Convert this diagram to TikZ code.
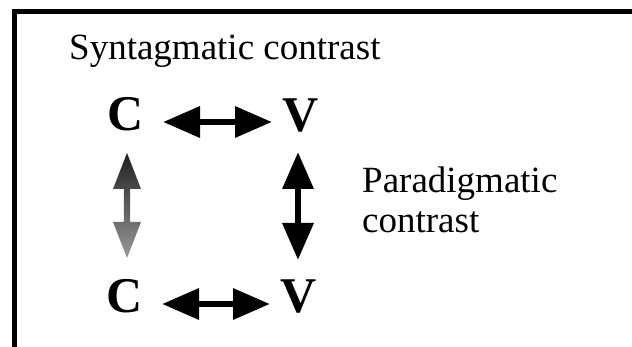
\documentclass[tikz,border=0pt]{standalone}
\usepackage{fontspec}
\setmainfont{Liberation Serif}
\usetikzlibrary{arrows.meta}
\tikzset{
  lbl/.style={inner sep=0pt, anchor=base west, font=\fontsize{37}{40}\selectfont},
  letter/.style={inner sep=0pt, anchor=base, font=\fontsize{50}{55}\selectfont\bfseries},
  dbl/.style={line width=6.5pt, {Triangle[length=37pt,width=30pt]}-{Triangle[length=37pt,width=30pt]}},
}
\begin{document}
\begin{tikzpicture}[x=1pt,y=-1pt]
\useasboundingbox (0,0) rectangle (632,347);
\fill[white] (0,0) rectangle (632,347);
% frame
\draw[line width=5pt] (14.5,350) -- (14.5,11.5) -- (635,11.5);
% texts
\node[lbl] (title) at (69,60) {Syntagmatic contrast};
\node[lbl] (para1) at (362,193) {Paradigmatic};
\node[lbl] (para2) at (362,233) {contrast};
% letters
\node[letter] (c1) at (126,131) {C};
\node[letter] (v1) at (301,132) {V};
\node[letter] (c2) at (125,313) {C};
\node[letter] (v2) at (299,313) {V};
% arrow end points
\coordinate (h1a) at (163,122);
\coordinate (h1b) at (272,122);
\coordinate (h2a) at (162,304);
\coordinate (h2b) at (270,304);
\coordinate (vra) at (298,152);
\coordinate (vrb) at (298,260);
% horizontal arrows
\draw[dbl] (h1a) -- (h1b);
\draw[dbl] (h2a) -- (h2b);
% right vertical arrow
\draw[dbl] (vra) -- (vrb);
% left vertical arrow (shaded)
\shade[top color=black!88, bottom color=black!40]
  (127,153) -- (141,189) -- (130.2,189) -- (130.2,222) -- (141,222) -- (127,258)
  -- (113,222) -- (123.8,222) -- (123.8,189) -- (113,189) -- cycle;
\end{tikzpicture}
\end{document}
